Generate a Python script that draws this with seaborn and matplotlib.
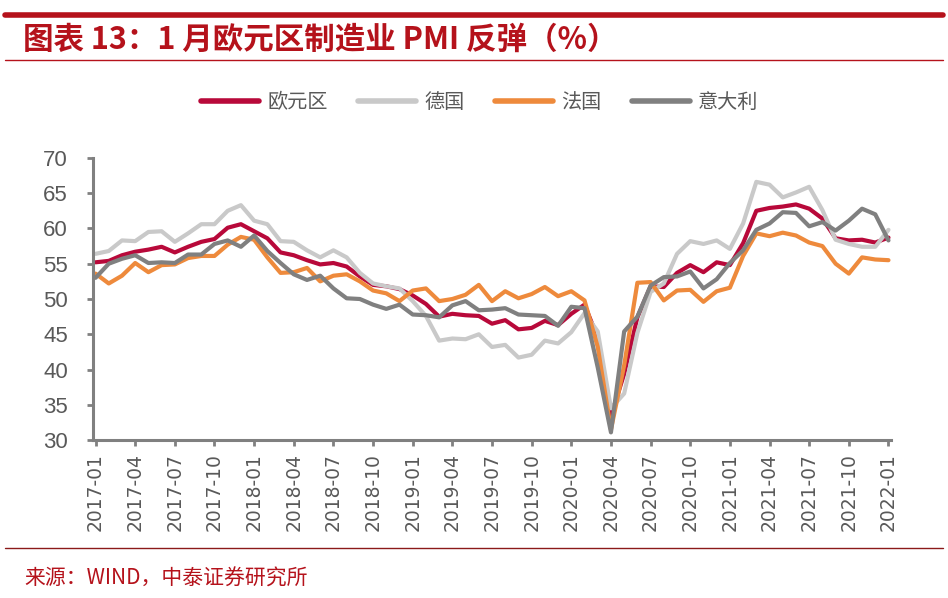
import numpy as np
import pandas as pd
import seaborn as sns
import matplotlib.pyplot as plt
from matplotlib.lines import Line2D

# monthly manufacturing PMI, 2017-01 .. 2022-01
months = pd.period_range("2017-01", "2022-01", freq="M").strftime("%Y-%m").tolist()

eurozone = [55.2, 55.4, 56.2, 56.7, 57.0, 57.4, 56.6, 57.4, 58.1, 58.5, 60.1, 60.6,
            59.6, 58.6, 56.6, 56.2, 55.5, 54.9, 55.1, 54.6, 53.2, 52.0, 51.8, 51.4,
            50.5, 49.3, 47.5, 47.9, 47.7, 47.6, 46.5, 47.0, 45.7, 45.9, 46.9, 46.3,
            47.9, 49.2, 44.5, 33.4, 39.4, 47.4, 51.8, 51.7, 53.7, 54.8, 53.8, 55.2,
            54.8, 57.9, 62.5, 62.9, 63.1, 63.4, 62.8, 61.4, 58.6, 58.3, 58.4, 58.0,
            58.7]
germany = [56.4, 56.8, 58.3, 58.2, 59.5, 59.6, 58.1, 59.3, 60.6, 60.6, 62.5, 63.3,
           61.1, 60.6, 58.2, 58.1, 56.9, 55.9, 56.9, 55.9, 53.7, 52.2, 51.8, 51.5,
           49.7, 47.6, 44.1, 44.4, 44.3, 45.0, 43.2, 43.5, 41.7, 42.1, 44.1, 43.7,
           45.3, 48.0, 45.4, 34.5, 36.6, 45.2, 51.0, 52.2, 56.4, 58.2, 57.8, 58.3,
           57.1, 60.7, 66.6, 66.2, 64.4, 65.1, 65.9, 62.6, 58.4, 57.8, 57.4, 57.4,
           59.8]
france = [53.6, 52.2, 53.3, 55.1, 53.8, 54.8, 54.9, 55.8, 56.1, 56.1, 57.7, 58.8,
          58.4, 55.9, 53.7, 53.8, 54.4, 52.5, 53.3, 53.5, 52.5, 51.2, 50.8, 49.7,
          51.2, 51.5, 49.7, 50.0, 50.6, 52.0, 49.7, 51.1, 50.1, 50.7, 51.7, 50.4,
          51.1, 49.8, 43.2, 31.5, 40.6, 52.3, 52.4, 49.8, 51.2, 51.3, 49.6, 51.1,
          51.6, 56.1, 59.3, 58.9, 59.4, 59.0, 58.0, 57.5, 55.0, 53.6, 55.9, 55.6,
          55.5]
italy = [53.0, 55.0, 55.7, 56.2, 55.1, 55.2, 55.1, 56.3, 56.3, 57.8, 58.3, 57.4,
         59.0, 56.8, 55.1, 53.5, 52.7, 53.3, 51.5, 50.1, 50.0, 49.2, 48.6, 49.2,
         47.8, 47.7, 47.4, 49.1, 49.7, 48.4, 48.5, 48.7, 47.8, 47.7, 47.6, 46.2,
         48.9, 48.7, 40.3, 31.1, 45.4, 47.5, 51.9, 53.1, 53.2, 53.9, 51.5, 52.8,
         55.1, 56.9, 59.8, 60.7, 62.3, 62.2, 60.3, 60.9, 59.7, 61.1, 62.8, 62.0,
         58.3]

series_names = ["欧元区", "德国", "法国", "意大利"]
series_colors = ["#B8093A", "#C9C9C9", "#EE8A3C", "#808080"]

df = pd.DataFrame({"month": months, "欧元区": eurozone, "德国": germany,
                   "法国": france, "意大利": italy})
df["pos"] = np.arange(len(df))
long = df.melt(id_vars=["month", "pos"], var_name="series", value_name="PMI")

sns.set_style("white")
plt.rcParams["font.family"] = ["Liberation Sans", "Noto Sans CJK SC", "DejaVu Sans"]

fig = plt.figure(figsize=(9.48, 5.98), dpi=100)
ax = fig.add_axes([0.098, 0.264, 0.842, 0.472])

sns.lineplot(data=long, x="pos", y="PMI", hue="series", hue_order=series_names,
             palette=series_colors, linewidth=3.0, legend=False, ax=ax)

ax.set_xlim(-0.2, 60.2)
ax.set_ylim(30, 70)
ax.set_yticks(range(30, 71, 5))
ax.set_xticks(df["pos"][::3])
ax.set_xticklabels(df["month"][::3], rotation=90, fontsize=13.5, color="#595959",
                   family=["DejaVu Sans"])
ax.tick_params(axis="y", labelsize=16, labelcolor="#595959", length=4, width=2,
               color="#808080", left=True, pad=14)
ax.tick_params(axis="x", length=4, width=2, color="#808080", bottom=True, pad=5)
ax.set_xlabel("")
ax.set_ylabel("")
sns.despine(ax=ax)
for side in ["left", "bottom"]:
    ax.spines[side].set_color("#808080")
    ax.spines[side].set_linewidth(2.2)

handles = [Line2D([], [], color=c, linewidth=4) for c in series_colors]
fig.legend(handles, series_names, loc="center", bbox_to_anchor=(0.506, 0.829), ncol=4,
           frameon=False, handlelength=2.9, handletextpad=0.4, columnspacing=1.5,
           prop={"family": "Noto Sans CJK SC", "size": 14.5}, labelcolor="#595959")

# header / footer decorations
fig.add_artist(Line2D([0.005, 0.995], [0.975, 0.975], color="#B5121B", linewidth=4))
fig.add_artist(Line2D([0.005, 0.995], [0.899, 0.899], color="#B5121B", linewidth=1))
fig.add_artist(Line2D([0.005, 0.995], [0.083, 0.083], color="#8B1A1A", linewidth=1))
fig.text(0.024, 0.934, "图表 13：1 月欧元区制造业 PMI 反弹（%）", fontsize=22,
         fontweight="bold", color="#B5121B", va="center", ha="left",
         family=["Noto Sans CJK SC"])
fig.text(0.026, 0.032, "来源：WIND，中泰证券研究所", fontsize=15, color="#B5121B",
         va="center", ha="left", family=["Noto Sans CJK SC"])

fig.savefig("out.png", dpi=100)
